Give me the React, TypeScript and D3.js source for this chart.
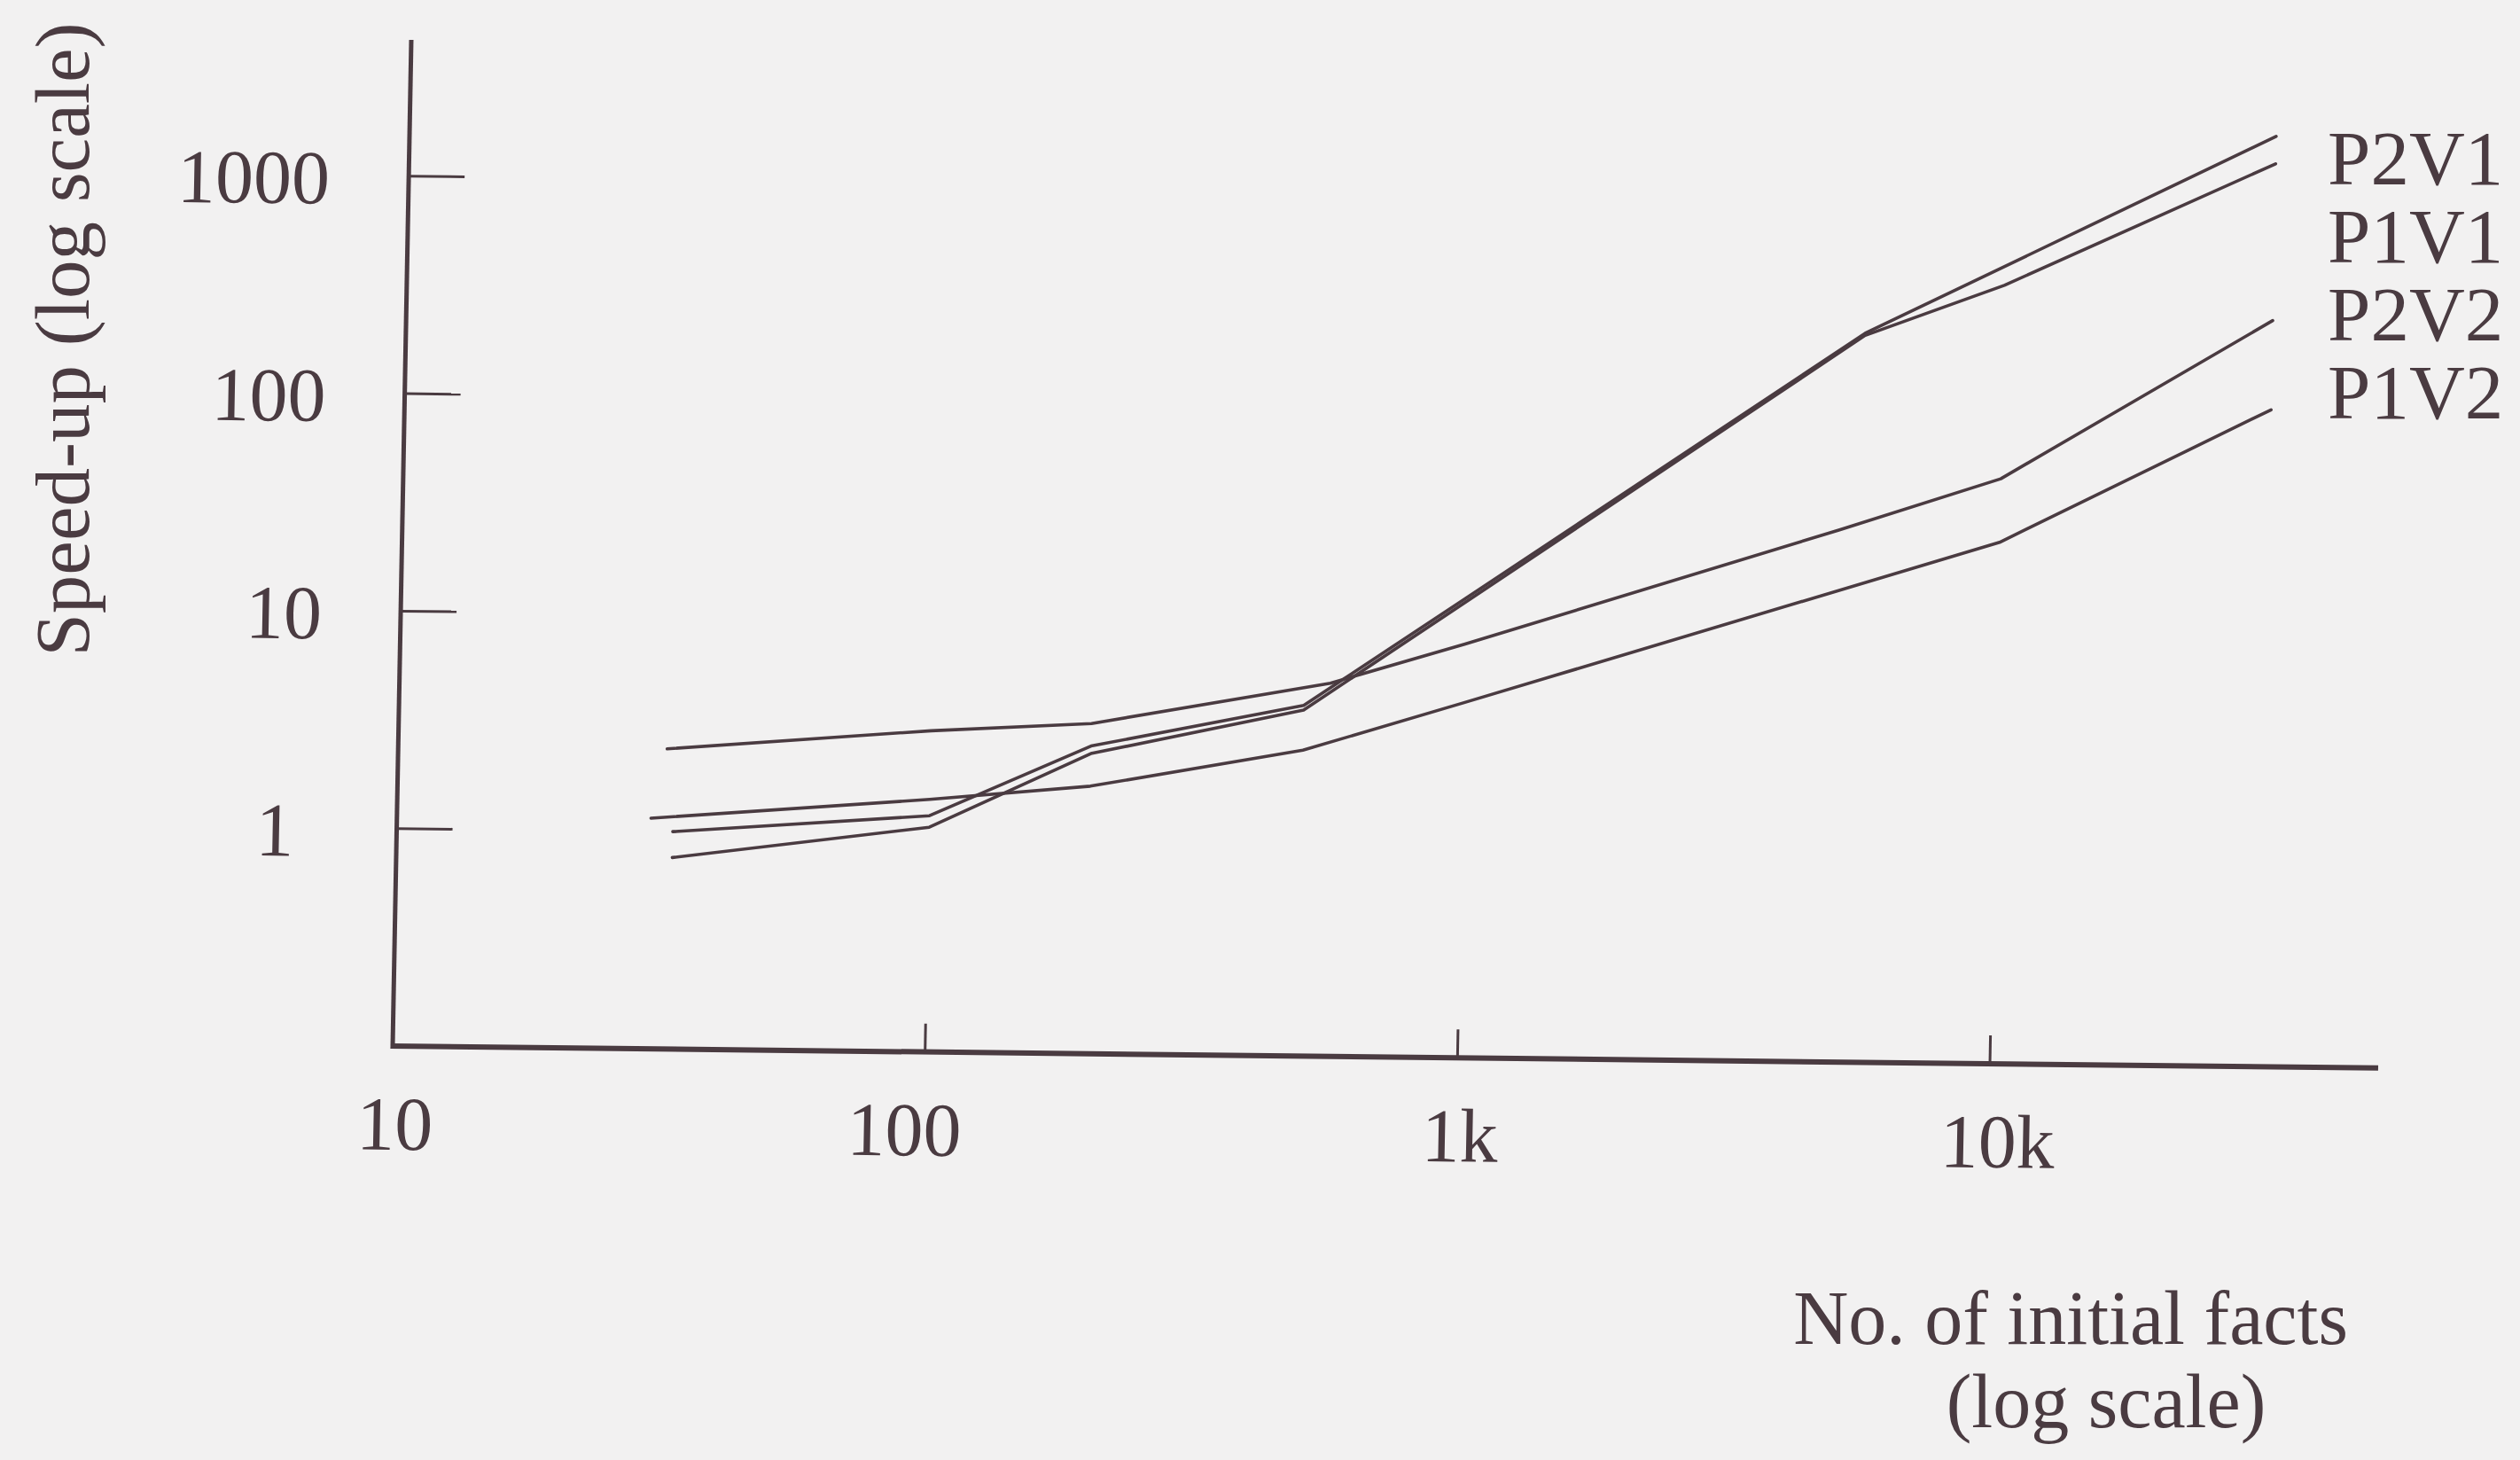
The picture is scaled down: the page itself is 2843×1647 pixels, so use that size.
import React, { useEffect } from 'react';
import * as d3 from 'd3';

// legend order, top to bottom
const seriesNames = ['P2V1', 'P1V1', 'P2V2', 'P1V2'];

// number of initial facts / speed-up
const p2v1Facts = [33, 100, 200, 500, 1000, 5500, 32000];
const p2v1Speedup = [1.0, 1.22, 2.6, 4.1, 13, 225, 1900];
const p1v1Facts = [33, 100, 200, 500, 1000, 5500, 10000, 32000];
const p1v1Speedup = [0.76, 1.08, 2.4, 3.9, 12.5, 220, 380, 1420];
const p2v2Facts = [32, 100, 200, 560, 1000, 5000, 10000, 32000];
const p2v2Speedup = [2.4, 3.0, 3.3, 5.2, 8.0, 28, 49, 270];
const p1v2Facts = [30, 100, 200, 500, 1000, 10000, 32000];
const p1v2Speedup = [1.15, 1.45, 1.7, 2.55, 4.3, 25, 105];

const xTicks = [10, 100, 1000, 10000];
const xTickLabels = ['10', '100', '1k', '10k'];
const yTicks = [1, 10, 100, 1000];
const yTickLabels = ['1', '10', '100', '1000'];

const W = 2843;
const H = 1647;
const ink = '#4a3b41';
const paper = '#f2f1f1';
const font = '"Liberation Serif", "Times New Roman", serif';

// the scan is slightly skewed; pivot at the axis origin
const ox = 443;
const oy = 1180;
const skewB = 0.0111;
const skewC = -0.0185;

const App = () => {
  useEffect(() => {
    document.body.style.margin = '0';
    document.body.style.background = paper;
  }, []);

  const x = d3.scaleLog().domain([10, 10000]).range([ox, 2245]);
  const y = d3.scaleLog().domain([0.1, 1000]).range([oy, oy - 4 * 245.3]);

  const line = d3.line<[number, number]>()
    .x(d => x(d[0]))
    .y(d => y(d[1]));

  const series = [
    { name: 'P2V1', facts: p2v1Facts, values: p2v1Speedup },
    { name: 'P1V1', facts: p1v1Facts, values: p1v1Speedup },
    { name: 'P2V2', facts: p2v2Facts, values: p2v2Speedup },
    { name: 'P1V2', facts: p1v2Facts, values: p1v2Speedup },
  ];

  const matrix = `matrix(1, ${skewB}, ${skewC}, 1, ${-skewC * oy}, ${-skewB * ox})`;

  // the scanned labels sit a little off their ticks
  const xLabelShift = (t: number) => (t === 100 ? -22 : t === 10000 ? 10 : 4);
  const yLabelShift = (t: number) => (t === 1 ? -116 : -89);

  return (
    <svg width={W} height={H} style={{ position: 'absolute', left: 0, top: 0, display: 'block' }}>
      <rect width={W} height={H} fill={paper} />

      <g transform={matrix}>
        {/* axes */}
        <line x1={ox} y1={45} x2={ox} y2={oy + 3} stroke={ink} strokeWidth={5} />
        <line x1={ox - 2} y1={oy} x2={2683} y2={oy} stroke={ink} strokeWidth={6} />

        {yTicks.map((t, i) => (
          <g key={'y' + t}>
            <line x1={ox} x2={ox + 63} y1={y(t)} y2={y(t)} stroke={ink} strokeWidth={3} />
            <text
              x={ox + yLabelShift(t)}
              y={y(t) + 32}
              textAnchor="end"
              fontFamily={font}
              fontSize={86}
              fill={ink}
            >
              {yTickLabels[i]}
            </text>
          </g>
        ))}

        {xTicks.map((t, i) => (
          <g key={'x' + t}>
            {i > 0 && <line x1={x(t)} x2={x(t)} y1={oy} y2={oy - 32} stroke={ink} strokeWidth={3} />}
            <text x={x(t) + xLabelShift(t)} y={oy + 117} textAnchor="middle" fontFamily={font} fontSize={86} fill={ink}>
              {xTickLabels[i]}
            </text>
          </g>
        ))}

        {series.map(s => (
          <path
            key={s.name}
            d={line(s.facts.map((f, i) => [f, s.values[i]] as [number, number])) || ''}
            fill="none"
            stroke={ink}
            strokeWidth={3.6}
            strokeLinejoin="round"
            strokeLinecap="round"
          />
        ))}
      </g>

      {/* legend column */}
      {seriesNames.map((n, i) => (
        <text key={n} x={2626} y={208 + i * 88} fontFamily={font} fontSize={87} fill={ink}>
          {n}
        </text>
      ))}

      {/* axis titles */}
      <text
        transform="translate(100,383) rotate(-90)"
        textAnchor="middle"
        fontFamily={font}
        fontSize={87}
        fill={ink}
      >
        Speed-up (log scale)
      </text>
      <text x={2336} y={1516} textAnchor="middle" fontFamily={font} fontSize={86} fill={ink}>
        No. of initial facts
      </text>
      <text x={2376} y={1610} textAnchor="middle" fontFamily={font} fontSize={86} fill={ink}>
        (log scale)
      </text>
    </svg>
  );
};

export default App;
